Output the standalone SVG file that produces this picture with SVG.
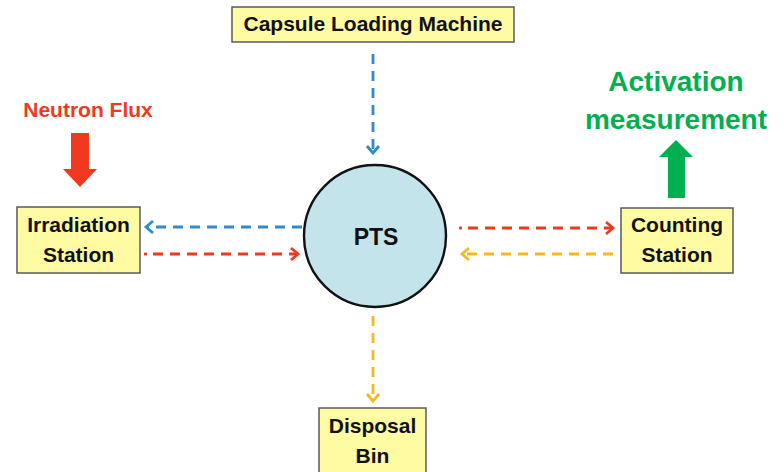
<svg xmlns="http://www.w3.org/2000/svg" width="784" height="472" viewBox="0 0 784 472">
  <style>
    .box { fill: #FFFBA3; stroke: #5a5a5a; stroke-width: 1.5; }
    .lbl { font-family: "Liberation Sans", Arial, sans-serif; font-weight: bold; font-size: 21px; fill: #111; text-anchor: middle; }
    .big { font-size: 23px; }
    .flow { fill: none; stroke-width: 2.8; stroke-dasharray: 10 7; }
    .blue { stroke: #2F8BCB; }
    .red { stroke: #EC3A22; }
    .yellow { stroke: #F7B81E; }
  </style>
  <defs>
    <marker id="chev-blue" markerUnits="userSpaceOnUse" markerWidth="12" markerHeight="16" viewBox="0 0 12 16" refX="9" refY="8" orient="auto">
      <path d="M2,2 L9,8 L2,14" fill="none" stroke="#2F8BCB" stroke-width="2.8"/>
    </marker>
    <marker id="chev-red" markerUnits="userSpaceOnUse" markerWidth="12" markerHeight="16" viewBox="0 0 12 16" refX="9" refY="8" orient="auto">
      <path d="M2,2 L9,8 L2,14" fill="none" stroke="#EC3A22" stroke-width="2.8"/>
    </marker>
    <marker id="chev-yellow" markerUnits="userSpaceOnUse" markerWidth="12" markerHeight="16" viewBox="0 0 12 16" refX="9" refY="8" orient="auto">
      <path d="M2,2 L9,8 L2,14" fill="none" stroke="#F7B81E" stroke-width="2.8"/>
    </marker>
  </defs>

  <rect width="784" height="472" fill="#ffffff"/>

  <!-- Connectors -->
  <g id="connectors">
    <line class="flow blue" x1="373" y1="54" x2="373" y2="153" marker-end="url(#chev-blue)"/>
    <line class="flow blue" x1="302" y1="227" x2="146" y2="227" marker-end="url(#chev-blue)"/>
    <line class="red" x1="144" y1="254" x2="147" y2="254" stroke-width="2.8"/>
    <line class="flow red" x1="153" y1="254" x2="298" y2="254" marker-end="url(#chev-red)"/>
    <line class="red" x1="459" y1="228" x2="462" y2="228" stroke-width="2.8"/>
    <line class="flow red" x1="468" y1="228" x2="613" y2="228" marker-end="url(#chev-red)"/>
    <line class="flow yellow" x1="613" y1="254" x2="462" y2="254" marker-end="url(#chev-yellow)"/>
    <line class="flow yellow" x1="373" y1="316" x2="373" y2="401" marker-end="url(#chev-yellow)"/>
  </g>

  <!-- Neutron flux input -->
  <g id="neutron-flux">
    <text x="88" y="117" font-family="Liberation Sans, Arial, sans-serif" font-weight="bold" font-size="21" fill="#F0391E" text-anchor="middle">Neutron Flux</text>
    <polygon points="71,133 89,133 89,169 97,169 80,187 63,169 71,169" fill="#F0391E"/>
  </g>

  <!-- Activation measurement output -->
  <g id="activation">
    <text x="676" y="91" font-family="Liberation Sans, Arial, sans-serif" font-weight="bold" font-size="28" fill="#00B050" text-anchor="middle">Activation</text>
    <text x="676" y="129" font-family="Liberation Sans, Arial, sans-serif" font-weight="bold" font-size="28" fill="#00B050" text-anchor="middle">measurement</text>
    <polygon points="668,198 685,198 685,157 693,157 676,140 659,157 668,157" fill="#00B050"/>
  </g>

  <g id="capsule-loading-machine">
    <rect class="box" x="232" y="7" width="282" height="35"/>
    <text class="lbl" x="373" y="31">Capsule Loading Machine</text>
  </g>

  <g id="pts">
    <circle cx="375" cy="236" r="71" fill="#C3E4EA" stroke="#111" stroke-width="2.4"/>
    <text class="lbl big" x="376" y="245">PTS</text>
  </g>

  <g id="irradiation-station">
    <rect class="box" x="17" y="207" width="123" height="66"/>
    <text class="lbl" x="78.5" y="232">Irradiation</text>
    <text class="lbl" x="78.5" y="262">Station</text>
  </g>

  <g id="counting-station">
    <rect class="box" x="621" y="208" width="112" height="65"/>
    <text class="lbl" x="677" y="232">Counting</text>
    <text class="lbl" x="677" y="262">Station</text>
  </g>

  <g id="disposal-bin">
    <rect class="box" x="319" y="408" width="107" height="70"/>
    <text class="lbl" x="372.5" y="433">Disposal</text>
    <text class="lbl" x="372.5" y="463">Bin</text>
  </g>
</svg>
